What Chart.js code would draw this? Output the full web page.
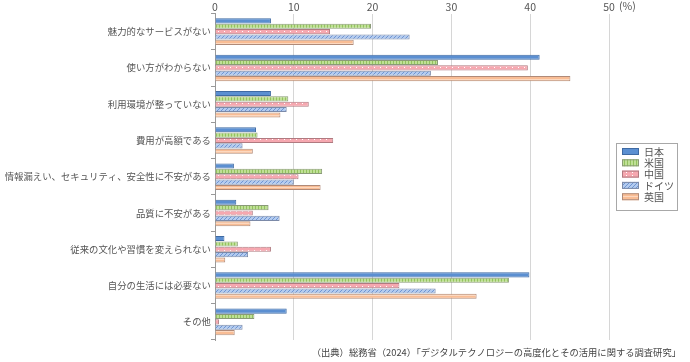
<!DOCTYPE html>
<html>
<head>
<meta charset="utf-8">
<script src="https://cdn.jsdelivr.net/npm/chart.js@4/dist/chart.umd.min.js"></script>
<style>
  html, body { margin: 0; padding: 0; background: #fff; }
  #wrap { width: 690px; height: 362px; position: relative; }
</style>
</head>
<body>
<div id="wrap"><canvas id="chart" width="690" height="362"></canvas></div>
<script>
const categories = [
  "魅力的なサービスがない",
  "使い方がわからない",
  "利用環境が整っていない",
  "費用が高額である",
  "情報漏えい、セキュリティ、安全性に不安がある",
  "品質に不安がある",
  "従来の文化や習慣を変えられない",
  "自分の生活には必要ない",
  "その他"
];
const seriesNames = ["日本", "米国", "中国", "ドイツ", "英国"];
const japan   = [7.1, 41.2, 7.1, 5.2, 2.4, 2.7, 1.2, 39.9, 9.1];
const usa     = [19.8, 28.3, 9.3, 5.4, 13.6, 6.8, 2.9, 37.3, 5.0];
const china   = [14.6, 39.7, 11.9, 15.0, 10.6, 4.8, 7.1, 23.4, 0.5];
const germany = [24.7, 27.4, 9.1, 3.5, 10.0, 8.2, 4.2, 28.0, 3.5];
const uk      = [17.6, 45.1, 8.3, 4.8, 13.4, 4.5, 1.3, 33.2, 2.5];
const xTicks = [0, 10, 20, 30, 40, 50];
const source = "（出典）総務省（2024）「デジタルテクノロジーの高度化とその活用に関する調査研究」";

const FONT = "'Noto Sans CJK JP', 'Noto Sans', sans-serif";

function makePattern(w, h, draw) {
  const c = document.createElement("canvas");
  c.width = w; c.height = h;
  const g = c.getContext("2d");
  draw(g, w, h);
  return g.createPattern(c, "repeat");
}

const patJapan = "#5b8fd1";
const patUsa = makePattern(3, 3, (g, w, h) => {
  g.fillStyle = "#bfe096"; g.fillRect(0, 0, w, h);
  g.fillStyle = "#93c25e"; g.fillRect(0, 0, 1, h);
});
const patChina = makePattern(6, 3, (g, w, h) => {
  g.fillStyle = "#f6a8b0"; g.fillRect(0, 0, w, h);
  g.fillStyle = "#ffffff"; g.fillRect(2, 1, 1, 1);
});
const patGermany = makePattern(4, 4, (g, w, h) => {
  g.fillStyle = "#b3cbef"; g.fillRect(0, 0, w, h);
  g.fillStyle = "#6f95d2";
  for (let i = 0; i < 4; i++) g.fillRect(3 - i, i, 1, 1);
});
const patUk = makePattern(3, 3, (g, w, h) => {
  g.fillStyle = "#f9bd95"; g.fillRect(0, 0, w, h);
  g.fillStyle = "#fcd8bf"; g.fillRect(0, 1, w, 1);
});

const fills = [patJapan, patUsa, patChina, patGermany, patUk];
const borders = ["#3f6aa3", "#8a9a78", "#b07a80", "#7c8aa8", "#b08a78"];
const values = [japan, usa, china, germany, uk];

const extras = {
  id: "extras",
  afterDraw(chart) {
    const ctx = chart.ctx;
    ctx.save();
    // legend
    ctx.strokeStyle = "#a8a8a8";
    ctx.lineWidth = 1;
    ctx.fillStyle = "#fff";
    ctx.fillRect(616.5, 143.5, 61, 67);
    ctx.strokeRect(616.5, 143.5, 61, 67);
    ctx.font = "10px " + FONT;
    ctx.textBaseline = "middle";
    seriesNames.forEach((name, i) => {
      const y = 148 + i * 11.3;
      ctx.fillStyle = fills[i];
      ctx.fillRect(622, y, 17, 7);
      ctx.strokeStyle = borders[i];
      ctx.strokeRect(622.5, y + 0.5, 16, 6);
      ctx.fillStyle = "#555";
      ctx.fillText(name, 644, y + 4);
    });
    // unit label next to the last x tick
    const xs = chart.scales.x;
    ctx.font = "10.5px " + FONT;
    ctx.fillStyle = "#555";
    ctx.fillText("(%)", xs.getPixelForValue(50) + 10, 6);
    // source note
    ctx.font = "9.3px " + FONT;
    ctx.fillStyle = "#444";
    ctx.textAlign = "right";
    ctx.fillText(source, 681, 352);
    ctx.restore();
  }
};

new Chart(document.getElementById("chart"), {
  type: "bar",
  data: {
    labels: categories,
    datasets: seriesNames.map((name, i) => ({
      label: name,
      data: values[i],
      backgroundColor: fills[i],
      borderColor: borders[i],
      borderWidth: 1,
      barPercentage: 0.95,
      categoryPercentage: 0.74
    }))
  },
  options: {
    indexAxis: "y",
    responsive: false,
    animation: false,
    layout: { padding: { left: 0, right: 81, top: 0, bottom: 22 } },
    plugins: {
      legend: { display: false },
      tooltip: { enabled: false }
    },
    scales: {
      x: {
        position: "top",
        min: 0,
        max: 50,
        afterBuildTicks(axis) { axis.ticks = xTicks.map(v => ({ value: v })); },
        afterFit(axis) { axis.height = 13.5; },
        ticks: {
          color: "#555",
          font: { family: FONT, size: 10.5 },
          padding: 0
        },
        grid: { color: "#d6d6d6", drawTicks: false, lineWidth: 1 },
        border: { display: false }
      },
      y: {
        offset: true,
        afterFit(axis) { axis.width = 215; },
        ticks: {
          color: "#555",
          font: { family: FONT, size: 9.4 },
          padding: 0
        },
        grid: {
          offset: true,
          drawOnChartArea: false,
          tickLength: 4,
          color: "#999"
        },
        border: { display: true, color: "#999" }
      }
    }
  },
  plugins: [extras]
});
</script>
</body>
</html>
